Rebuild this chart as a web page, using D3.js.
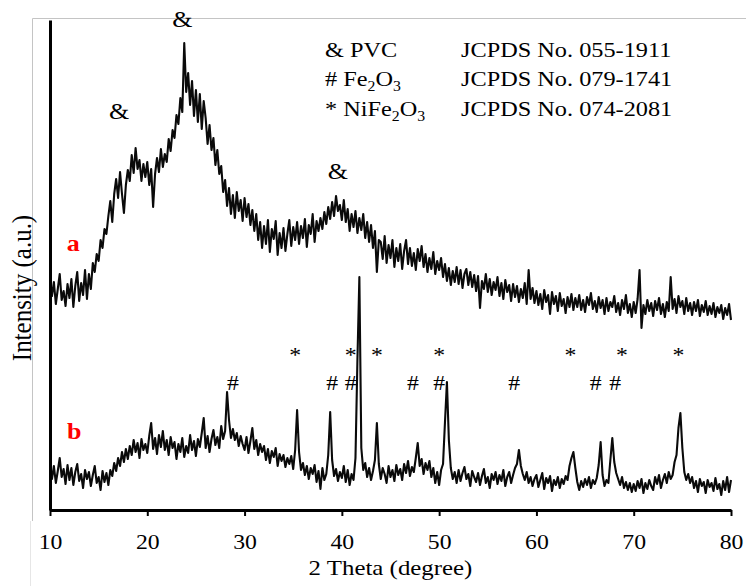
<!DOCTYPE html>
<html>
<head>
<meta charset="utf-8">
<script src="https://cdn.jsdelivr.net/npm/d3@7"></script>
<style>
  body { margin: 0; background: #fff; }
  svg text { font-family: "Liberation Serif", "Times New Roman", serif; fill: #000; }
</style>
</head>
<body>
<div id="container"></div>
<script>
// XRD scan: 10-80 deg, 0.2 deg step
const scanStart = 10;
const scanStep = 0.2;

// pattern a (PVC), a.u.
const intensityA = [
  232, 214, 228, 206, 221, 236, 210, 219, 204, 226,
  212, 231, 203, 224, 238, 209, 227, 215, 240, 211,
  236, 221, 247, 238, 256, 249, 270, 262, 281, 276,
  294, 309, 288, 316, 331, 312, 338, 316, 297, 325,
  340, 329, 355, 337, 362, 341, 350, 329, 346, 333,
  348, 325, 341, 303, 336, 352, 338, 361, 343, 356,
  348, 371, 359, 380, 372, 395, 386, 412, 398, 467,
  418, 437, 405, 429, 394, 420, 388, 416, 381, 409,
  392, 366, 385, 360, 372, 345, 360, 336, 344, 318,
  330, 304, 322, 296, 315, 292, 318, 299, 310, 289,
  312, 293, 306, 285, 300, 279, 296, 270, 288, 262,
  284, 266, 290, 258, 281, 271, 289, 255, 277, 262,
  282, 259, 276, 290, 264, 283, 270, 288, 266, 284,
  272, 291, 263, 285, 276, 296, 268, 289, 279, 292,
  281, 298, 286, 303, 291, 308, 294, 314, 299, 305,
  290, 310, 288, 301, 279, 296, 283, 299, 277, 292,
  280, 296, 272, 288, 268, 285, 262, 279, 238, 270,
  268, 251, 274, 247, 265, 252, 270, 243, 262, 249,
  266, 241, 259, 270, 246, 262, 244, 257, 240, 261,
  249, 264, 243, 256, 238, 252, 241, 258, 236, 249,
  240, 252, 233, 246, 229, 242, 225, 239, 228, 243,
  226, 240, 222, 236, 241, 225, 238, 223, 235, 219,
  234, 202, 229, 221, 236, 218, 231, 215, 228, 220,
  233, 214, 227, 211, 230, 218, 225, 209, 226, 213,
  224, 208, 221, 212, 227, 206, 240, 211, 222, 207,
  219, 205, 216, 201, 220, 208, 215, 196, 218, 206,
  214, 199, 217, 204, 211, 197, 213, 203, 216, 200,
  212, 203, 215, 200, 210, 198, 213, 205, 217, 201,
  209, 198, 213, 202, 210, 196, 212, 199, 208, 203,
  214, 198, 207, 195, 210, 201, 215, 197, 206, 193,
  208, 197, 211, 240, 182, 205, 196, 210, 199, 207,
  194, 209, 200, 212, 196, 206, 193, 208, 199, 233,
  201, 211, 197, 214, 203, 209, 196, 212, 199, 207,
  195, 208, 199, 210, 194, 205, 198, 209, 195, 204,
  196, 207, 193, 203, 197, 205, 191, 202, 195, 206,
  190
];

// pattern b (PVC / Fe2O3 / NiFe2O3), a.u.
const intensityB = [
  48, 31, 44, 27, 39, 52, 33, 41, 26, 45,
  30, 42, 25, 38, 46, 29, 36, 22, 40, 31,
  38, 24, 35, 44, 27, 33, 20, 39, 28, 37,
  25, 40, 34, 47, 39, 52, 44, 58, 48, 61,
  51, 64, 55, 70, 58, 67, 52, 71, 60, 66,
  57, 74, 87, 61, 72, 56, 75, 63, 79, 60,
  70, 55, 73, 62, 68, 51, 66, 58, 72, 53,
  64, 57, 75, 60, 69, 54, 71, 63, 77, 92,
  62, 74, 58, 71, 80, 65, 73, 62, 84, 71,
  79, 118, 90, 72, 81, 70, 77, 64, 74, 66,
  60, 73, 57, 69, 82, 61, 70, 55, 66, 58,
  64, 50, 61, 47, 59, 53, 62, 44, 56, 49,
  55, 43, 52, 46, 54, 41, 60, 100, 58, 40,
  47, 35, 44, 31, 42, 36, 45, 28, 39, 21,
  42, 30, 36, 55, 98, 50, 34, 41, 29, 38,
  32, 44, 28, 40, 25, 36, 30, 52, 150, 233,
  62, 40, 47, 33, 42, 30, 39, 50, 87, 46,
  31, 42, 36, 27, 44, 33, 40, 29, 45, 35,
  41, 30, 46, 37, 49, 34, 43, 38, 52, 67,
  44, 51, 36, 47, 40, 49, 33, 42, 27, 38,
  25, 40, 46, 88, 128, 70, 42, 31, 38, 27,
  40, 29, 37, 43, 31, 36, 24, 39, 33, 28,
  37, 25, 34, 41, 27, 33, 22, 36, 30, 38,
  26, 35, 29, 40, 24, 33, 38, 27, 35, 42,
  46, 60, 44, 36, 30, 38, 27, 33, 24, 31,
  35, 23, 30, 37, 21, 32, 27, 34, 19, 30,
  25, 33, 22, 31, 26, 34, 30, 44, 52, 58,
  42, 28, 20, 29, 23, 31, 25, 33, 22, 30,
  26, 32, 45, 68, 35, 24, 30, 27, 50, 72,
  48, 37, 31, 25, 33, 22, 28, 20, 27, 18,
  26, 19, 29, 22, 31, 17, 27, 21, 30, 24,
  20, 33, 26, 35, 22, 30, 36, 27, 38, 31,
  35, 48, 55, 82, 97, 62, 38, 30, 36, 27,
  33, 22, 29, 18, 31, 24, 28, 17, 30, 23,
  27, 19, 32, 21, 26, 15, 29, 20, 33, 18,
  30
];

const xTicks = [10, 20, 30, 40, 50, 60, 70, 80];

// peak markers (2 theta) and where the symbol sits (a.u.)
const pvcAngles = [17.1, 23.6, 39.6];
const pvcLevels = [391, 483, 331];
const nifeAngles = [35.2, 40.9, 43.6, 50.0, 63.5, 68.8, 74.6];
const feAngles = [28.8, 39.0, 40.9, 47.3, 50.0, 57.7, 66.1, 68.1];

// legend: [text, subscript, text, subscript]
const legendNames = [["& PVC"], ["# Fe", "2", "O", "3"], ["* NiFe", "2", "O", "3"]];
const legendRefs = ["JCPDS No. 055-1911", "JCPDS No. 079-1741", "JCPDS No. 074-2081"];

const curveLabels = ["a", "b"];
const curveLabelAngles = [12.4, 12.5];
const curveLabelLevels = [259, 71];

const width = 746;
const height = 586;
const sx = 1.13; // the figure is a bit wider than tall in its glyphs

const angles = intensityA.map((d, i) => scanStart + i * scanStep);

const x = d3.scaleLinear().domain([10, 80]).range([50, 731]);
const y = d3.scaleLinear().domain([0, 490]).range([510, 20]);

const svg = d3.select("#container").append("svg")
  .attr("width", width).attr("height", height);

// grey frame of the pasted figure
svg.append("path").attr("d", "M32.5,521V18.5H746")
  .attr("fill", "none").attr("stroke", "#c4c4c4").attr("stroke-width", 1);
svg.append("path").attr("d", "M30.5,521V586")
  .attr("fill", "none").attr("stroke", "#e6e6e6").attr("stroke-width", 1);

function stretched(parent, px, py, str, size) {
  return parent.append("text")
    .attr("transform", "translate(" + px + "," + py + ") scale(" + sx + ",1)")
    .style("font-size", size + "px")
    .text(str);
}

// curves
const line = d3.line()
  .x((d, i) => x(angles[i]))
  .y(d => y(d));

[intensityA, intensityB].forEach(series => {
  svg.append("path")
    .datum(series)
    .attr("fill", "none")
    .attr("stroke", "#0a0a0a")
    .attr("stroke-width", 2.1)
    .attr("stroke-linejoin", "round")
    .attr("d", line);
});

// axes
const xAxis = d3.axisBottom(x).tickValues(xTicks).tickSize(6).tickSizeOuter(0).tickPadding(18);
const gx = svg.append("g")
  .attr("transform", "translate(0," + y(0) + ")")
  .call(xAxis);
gx.select(".domain").attr("stroke", "#000").attr("stroke-width", 3);
gx.selectAll(".tick line").attr("stroke", "#000").attr("stroke-width", 2);
gx.selectAll(".tick text")
  .attr("transform", "scale(" + sx + ",1)")
  .style("font-size", "21px")
  .style("font-family", "'Liberation Serif', 'Times New Roman', serif")
  .attr("fill", "#000");

const yAxis = d3.axisLeft(y).tickValues([]).tickSizeOuter(0);
const gy = svg.append("g")
  .attr("transform", "translate(" + x(10) + ",0)")
  .call(yAxis);
gy.select(".domain").attr("stroke", "#000").attr("stroke-width", 3);

// axis titles
stretched(svg, (x(10) + x(80)) / 2, 575, "2 Theta (degree)", 22)
  .attr("text-anchor", "middle");

svg.append("text")
  .attr("transform", "translate(31,288) rotate(-90) scale(1," + sx + ")")
  .attr("text-anchor", "middle")
  .style("font-size", "25px")
  .text("Intensity (a.u.)");

// peak symbols
pvcAngles.forEach((a, i) => {
  stretched(svg, x(a), y(pvcLevels[i]), "&", 23).attr("text-anchor", "middle");
});
nifeAngles.forEach(a => {
  stretched(svg, x(a), y(148), "*", 21).attr("text-anchor", "middle");
});
feAngles.forEach(a => {
  stretched(svg, x(a), y(120), "#", 21).attr("text-anchor", "middle");
});

// curve labels
curveLabels.forEach((lab, i) => {
  stretched(svg, x(curveLabelAngles[i]), y(curveLabelLevels[i]), lab, 23)
    .attr("text-anchor", "middle")
    .style("font-weight", "bold")
    .style("fill", "#ff0000");
});

// legend block
const legendBase = [57, 86, 116];
legendNames.forEach((parts, i) => {
  const t = svg.append("text")
    .attr("transform", "translate(325," + legendBase[i] + ") scale(" + sx + ",1)")
    .style("font-size", "21.5px");
  parts.forEach((p, j) => {
    const sub = j % 2 === 1;
    t.append("tspan")
      .attr("dy", sub ? 5 : (j > 0 ? -5 : 0))
      .style("font-size", sub ? "14px" : "21.5px")
      .text(p);
  });
  stretched(svg, 461, legendBase[i], legendRefs[i], 21.5);
});
</script>
</body>
</html>
